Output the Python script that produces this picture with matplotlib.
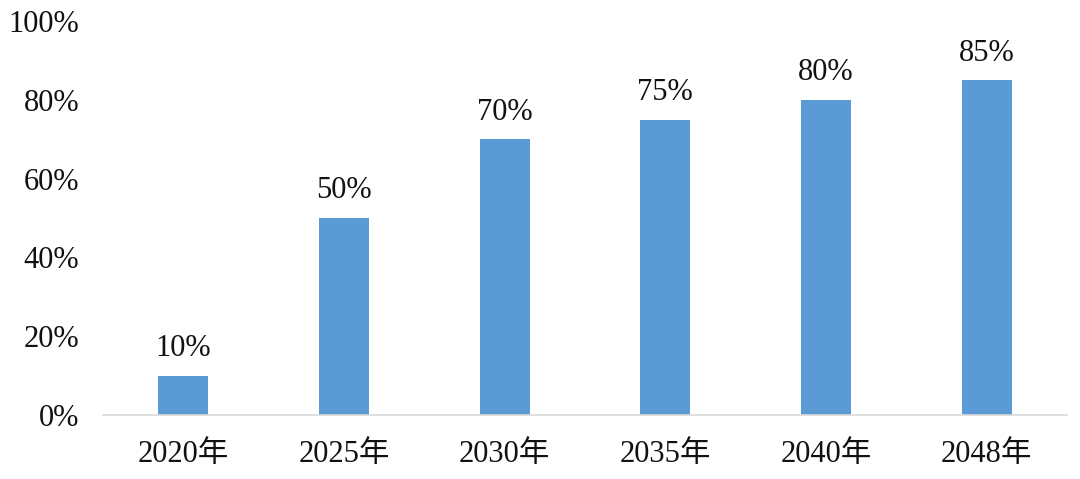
import matplotlib
matplotlib.use("Agg")
import matplotlib.pyplot as plt

categories = ["2020年", "2025年", "2030年", "2035年", "2040年", "2048年"]
values = [10, 50, 70, 75, 80, 85]
yticks = [0, 20, 40, 60, 80, 100]
ytick_labels = ["0%", "20%", "40%", "60%", "80%", "100%"]

fam = ["Liberation Serif", "Noto Sans CJK SC"]
plt.rcParams["font.family"] = fam

fig = plt.figure(figsize=(10.8, 4.79), dpi=100)
ax = fig.add_axes([103/1080, 1-415/479, (1067-103)/1080, (415-21)/479])

x = list(range(len(categories)))
bars = ax.bar(x, values, width=0.31, color="#5B9BD5", zorder=2)
for xi, v in zip(x, values):
    ax.annotate(f"{v}%", (xi, v), xytext=(0, 9), textcoords="offset points",
                ha="center", va="bottom", fontsize=22, color="#111111")

ax.set_xlim(-0.5, len(categories) - 0.5)
ax.set_ylim(0, 100)
ax.set_yticks(yticks)
ax.set_yticklabels(ytick_labels)
ax.set_xticks(x)
ax.set_xticklabels(categories)
ax.tick_params(axis="both", length=0, labelsize=22, colors="#111111")
ax.tick_params(axis="y", pad=17)
ax.tick_params(axis="x", pad=18)
for s in ["left", "right", "top"]:
    ax.spines[s].set_visible(False)
ax.spines["bottom"].set_color("#D9D9D9")
ax.spines["bottom"].set_linewidth(1.2)

fig.savefig("out.png", dpi=100)
